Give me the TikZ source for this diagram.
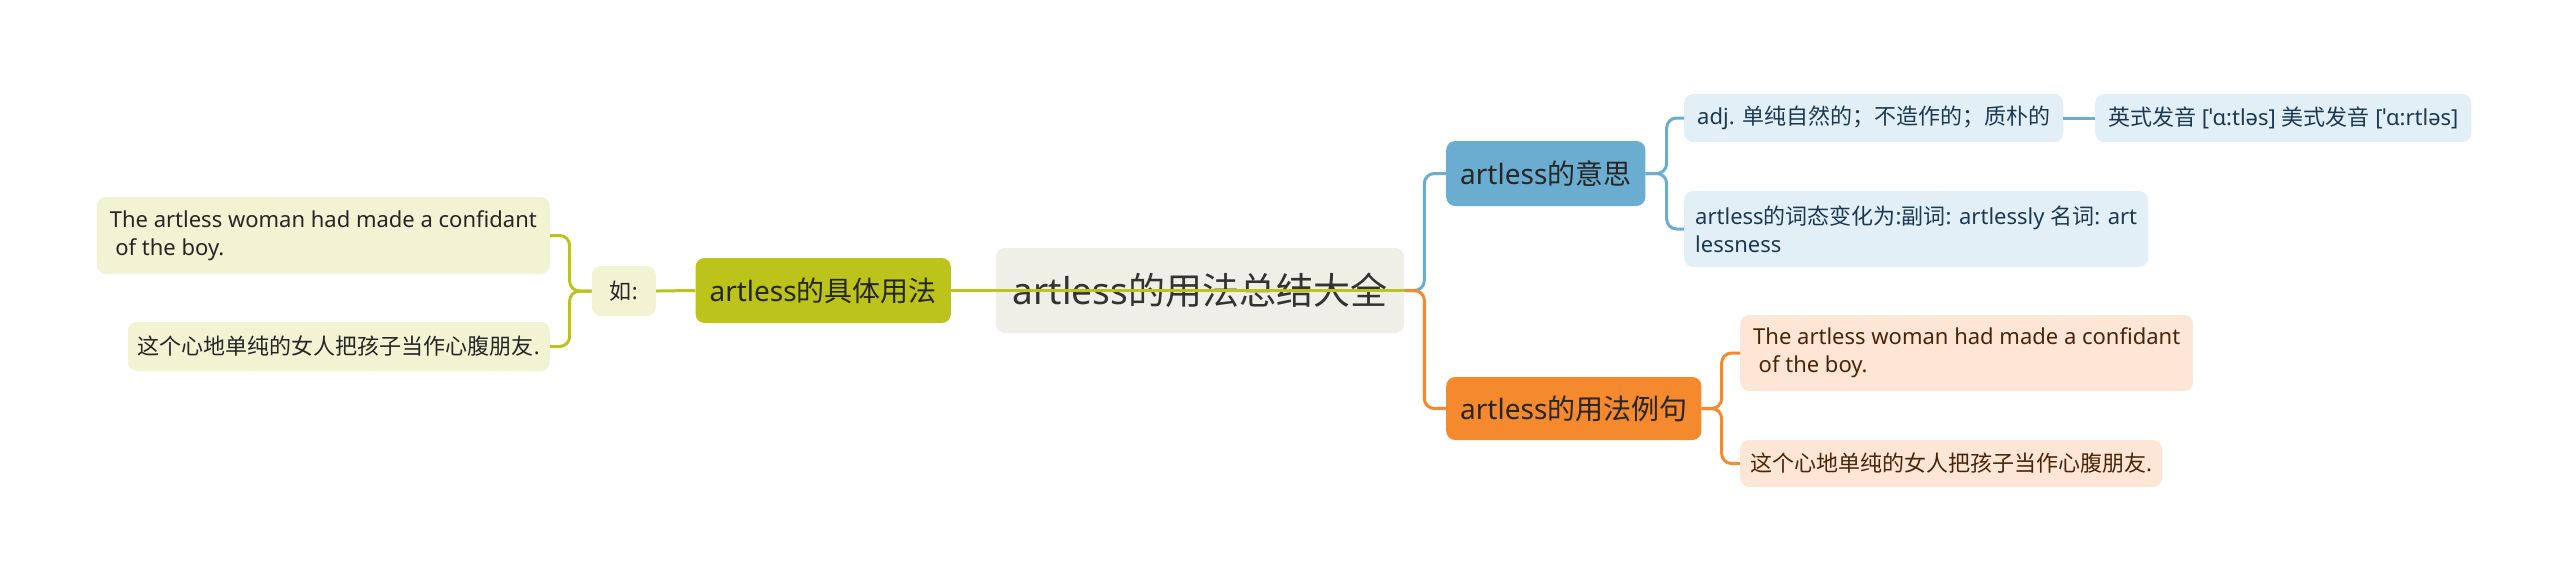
\documentclass[tikz,border=0pt]{standalone}
\usepackage{fontspec}
\setmainfont{Noto Sans}
\newfontfamily\cjk{Noto Sans CJK SC}

\definecolor{rootfill}{HTML}{EFEFE7}
\definecolor{roottext}{HTML}{333333}
\definecolor{olivec}{HTML}{BCC31A}
\definecolor{oliveleaf}{HTML}{F1F3D3}
\definecolor{bluec}{HTML}{6AADD0}
\definecolor{blueleaf}{HTML}{E2EFF7}
\definecolor{bluetext}{HTML}{1B3A52}
\definecolor{orangec}{HTML}{F5892E}
\definecolor{orangeleaf}{HTML}{FDE6D5}
\definecolor{orangetext}{HTML}{4A2509}

\begin{document}
\begin{tikzpicture}[x=1pt,y=-1pt,
  every node/.style={rounded corners=9pt, inner ysep=0pt},
  hub/.style={fill=rootfill, text=roottext, font=\fontsize{37}{44}\selectfont, minimum height=85pt, inner xsep=17pt},
  topic/.style={text=black!85, font=\fontsize{28}{34}\selectfont, minimum height=65pt, inner xsep=14pt},
  leaf/.style={font=\fontsize{22}{28}\selectfont, align=left, minimum height=48pt, inner xsep=13pt},
  link/.style={line width=3pt, rounded corners=10pt}]
  \useasboundingbox (0,0) rectangle (2560,582);

  % centre
  \node[hub] (root) at (1200,290.5) {artless{\cjk 的用法总结大全}};

  % left branch
  \node[topic, fill=olivec, anchor=east] (usage) at (951,290.5) {artless{\cjk 的具体用法}};
  \node[leaf, fill=oliveleaf, text=black!85, anchor=east, minimum height=50pt, minimum width=64pt] (ru) at (656,291) {{\cjk 如}:};
  \node[leaf, fill=oliveleaf, text=black!85, anchor=east, minimum height=77pt] (lsentA) at (550,235.5)
    {The artless woman had made a confidant\\\hspace*{.25em}of the boy.};
  \node[leaf, fill=oliveleaf, text=black!85, anchor=east, minimum height=49pt, inner xsep=10pt] (lsentB) at (550,346.5)
    {{\cjk 这个心地单纯的女人把孩子当作心腹朋友}.};

  % right branches
  \node[topic, fill=bluec, anchor=west] (mean) at (1446,173.5) {artless{\cjk 的意思}};
  \node[topic, fill=orangec, anchor=west, minimum height=63pt] (expl) at (1446,408.5) {artless{\cjk 的用法例句}};

  \node[leaf, fill=blueleaf, text=bluetext, anchor=west] (adj) at (1684,118)
    {adj. {\cjk 单纯自然的；不造作的；质朴的}};
  \node[leaf, fill=blueleaf, text=bluetext, anchor=west] (pron) at (2095,118)
    {{\cjk 英式发音} [ˈɑ:tləs] {\cjk 美式发音} [ˈɑ:rtləs]};
  \node[leaf, fill=blueleaf, text=bluetext, anchor=west, minimum height=76pt, inner xsep=11pt] (forms) at (1684,229)
    {artless{\cjk 的词态变化为}:{\cjk 副词}: artlessly {\cjk 名词}: art\\lessness};

  \node[leaf, fill=orangeleaf, text=orangetext, anchor=west, minimum height=76pt] (rsentA) at (1740,353)
    {The artless woman had made a confidant\\\hspace*{.25em}of the boy.};
  \node[leaf, fill=orangeleaf, text=orangetext, anchor=west, minimum height=47pt, inner xsep=10pt] (rsentB) at (1740,463.5)
    {{\cjk 这个心地单纯的女人把孩子当作心腹朋友}.};

  % connectors
  \draw[link, olivec] (root.east) -- (usage.east);
  \draw[link, olivec] (usage.west) -- (ru.east);
  \draw[link, olivec] (ru.west) -- ++(-22,0) |- (lsentA.east);
  \draw[link, olivec] (ru.west) -- ++(-22,0) |- (lsentB.east);

  \draw[link, bluec] (root.east) -- ++(20,0) |- (mean.west);
  \draw[link, orangec] (root.east) -- ++(20,0) |- (expl.west);

  \draw[link, bluec] (mean.east) -- ++(21,0) |- (adj.west);
  \draw[link, bluec] (mean.east) -- ++(21,0) |- (forms.west);
  \draw[link, bluec] (adj.east) -- (pron.west);

  \draw[link, orangec] (expl.east) -- ++(20,0) |- (rsentA.west);
  \draw[link, orangec] (expl.east) -- ++(20,0) |- (rsentB.west);
\end{tikzpicture}
\end{document}
